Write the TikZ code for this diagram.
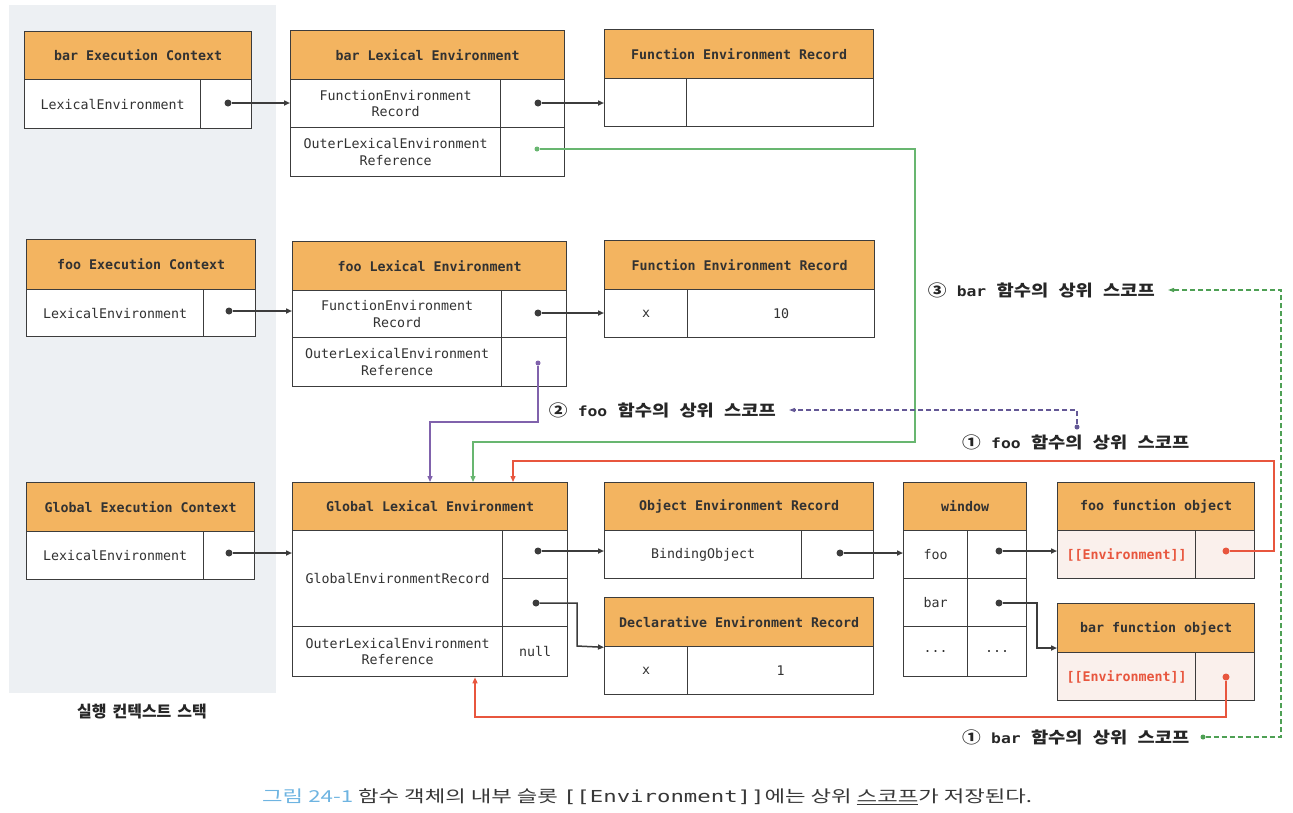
\documentclass[tikz,border=0pt]{standalone}
\usepackage{fontspec}
\usepackage{graphicx}
\setmainfont{Noto Sans CJK KR}
\setmonofont{DejaVu Sans Mono}
\usetikzlibrary{arrows.meta}
\definecolor{hdrc}{RGB}{243,180,96}
\definecolor{bd}{RGB}{60,60,60}
\definecolor{txt}{RGB}{50,50,50}
\definecolor{pinkc}{RGB}{250,240,236}
\definecolor{redc}{RGB}{232,86,62}
\definecolor{greenc}{RGB}{104,182,112}
\definecolor{purplec}{RGB}{128,98,172}
\definecolor{dgreen}{RGB}{78,160,84}
\definecolor{dpurple}{RGB}{100,88,150}
\definecolor{bgc}{RGB}{237,240,243}
\definecolor{capblue}{RGB}{110,180,225}
\definecolor{captxt}{RGB}{55,55,55}
\newcommand\cellfont{\fontsize{13.3pt}{16.5pt}\selectfont\ttfamily}
\newcommand\hdrfont{\fontsize{13.3pt}{16.5pt}\selectfont\ttfamily\bfseries}
\newcommand\mkcell[7]{\node[#1,minimum width=#5pt,minimum height=#6pt] (#2) at (#3,#4) {#7};}
\newcommand\lbltext[2]{\resizebox{227pt}{\height}{#1\hspace{0.55em}{\ttfamily\bfseries\fontsize{14pt}{16pt}\selectfont #2}\hspace{0.55em}함수의\hspace{0.55em}상위\hspace{0.55em}스코프}}
\begin{document}
\begin{tikzpicture}[x=1pt,y=-1pt,
  cellbase/.style={draw=bd, line width=1.3pt, inner sep=0pt, anchor=north west, align=center, text=txt},
  hdr/.style={cellbase, fill=hdrc, font=\hdrfont},
  cell/.style={cellbase, fill=white, font=\cellfont},
  pcell/.style={cellbase, fill=pinkc, font=\cellfont},
  pdot/.style={circle, fill=#1, inner sep=0pt, minimum size=7pt},
  sdot/.style={circle, fill=#1, inner sep=0pt, minimum size=5pt},
  conn/.style={line width=1.5pt, draw=bd, -{Triangle[length=6pt,width=5pt]}},
  gline/.style={line width=1.3pt, draw=greenc, -{Triangle[length=6pt,width=5pt]}},
  pline/.style={line width=1.3pt, draw=purplec, -{Triangle[length=6pt,width=5pt]}},
  rline/.style={line width=1.3pt, draw=redc, -{Triangle[length=6pt,width=5pt]}},
  dgline/.style={line width=1.2pt, draw=dgreen, dash pattern=on 5pt off 3pt, -{Triangle[length=6pt,width=4pt]}},
  dpline/.style={line width=1.2pt, draw=dpurple, dash pattern=on 5pt off 3pt, -{Triangle[length=6pt,width=4pt]}},
  lbl/.style={inner sep=0pt, text=black!85, font=\fontsize{16pt}{19pt}\selectfont\bfseries}
]
\useasboundingbox (0,0) rectangle (1293,812);
\fill[bgc] (9,5) rectangle (276,693);
% bar EC
\mkcell{hdr}{barECh}{24}{31}{227}{48}{bar Execution Context}
\mkcell{cell}{barECl}{24}{79}{176}{49}{LexicalEnvironment}
\mkcell{cell}{barECr}{200}{79}{51}{49}{}
% bar LE
\mkcell{hdr}{barLEh}{290}{30}{274}{49}{bar Lexical Environment}
\mkcell{cell}{barLE1l}{290}{79}{210}{48}{FunctionEnvironment\\Record}
\mkcell{cell}{barLE1r}{500}{79}{64}{48}{}
\mkcell{cell}{barLE2l}{290}{127}{210}{49}{OuterLexicalEnvironment\\Reference}
\mkcell{cell}{barLE2r}{500}{127}{64}{49}{}
% FER 1
\mkcell{hdr}{fer1h}{604}{29}{269}{49}{Function Environment Record}
\mkcell{cell}{fer1l}{604}{78}{82}{48}{}
\mkcell{cell}{fer1r}{686}{78}{187}{48}{}
% foo EC
\mkcell{hdr}{fooECh}{26}{239}{229}{50}{foo Execution Context}
\mkcell{cell}{fooECl}{26}{289}{177}{47}{LexicalEnvironment}
\mkcell{cell}{fooECr}{203}{289}{52}{47}{}
% foo LE
\mkcell{hdr}{fooLEh}{292}{241}{274}{49}{foo Lexical Environment}
\mkcell{cell}{fooLE1l}{292}{290}{209}{47}{FunctionEnvironment\\Record}
\mkcell{cell}{fooLE1r}{501}{290}{65}{47}{}
\mkcell{cell}{fooLE2l}{292}{337}{209}{49}{OuterLexicalEnvironment\\Reference}
\mkcell{cell}{fooLE2r}{501}{337}{65}{49}{}
% FER 2
\mkcell{hdr}{fer2h}{604}{240}{270}{49}{Function Environment Record}
\mkcell{cell}{fer2l}{604}{289}{83}{48}{x}
\mkcell{cell}{fer2r}{687}{289}{187}{48}{10}
% Global EC
\mkcell{hdr}{gECh}{26}{482}{228}{49}{Global Execution Context}
\mkcell{cell}{gECl}{26}{531}{177}{48}{LexicalEnvironment}
\mkcell{cell}{gECr}{203}{531}{51}{48}{}
% Global LE
\mkcell{hdr}{GLEh}{292}{482}{275}{48}{Global Lexical Environment}
\mkcell{cell}{GLEgl}{292}{530}{210}{96}{GlobalEnvironmentRecord}
\mkcell{cell}{GLEg1}{502}{530}{65}{48}{}
\mkcell{cell}{GLEg2}{502}{578}{65}{48}{}
\mkcell{cell}{GLEol}{292}{626}{210}{50}{OuterLexicalEnvironment\\Reference}
\mkcell{cell}{GLEor}{502}{626}{65}{50}{null}
% Object ER
\mkcell{hdr}{oerh}{604}{482}{269}{48}{Object Environment Record}
\mkcell{cell}{oerl}{604}{530}{197}{48}{BindingObject}
\mkcell{cell}{oerr}{801}{530}{72}{48}{}
% Declarative ER
\mkcell{hdr}{derh}{604}{597}{269}{49}{Declarative Environment Record}
\mkcell{cell}{derl}{604}{646}{83}{48}{x}
\mkcell{cell}{derr}{687}{646}{186}{48}{1}
% window
\mkcell{hdr}{winh}{903}{482}{123}{48}{window}
\mkcell{cell}{win1l}{903}{530}{64}{48}{foo}
\mkcell{cell}{win1r}{967}{530}{59}{48}{}
\mkcell{cell}{win2l}{903}{578}{64}{48}{bar}
\mkcell{cell}{win2r}{967}{578}{59}{48}{}
\mkcell{cell}{win3l}{903}{626}{64}{50}{...}
\mkcell{cell}{win3r}{967}{626}{59}{50}{...}
% foo function object
\mkcell{hdr}{ffoh}{1057}{482}{197}{48}{foo function object}
\mkcell{pcell}{ffol}{1057}{530}{138}{48}{\textcolor{redc}{\bfseries [[Environment]]}}
\mkcell{pcell}{ffor}{1195}{530}{59}{48}{}
% bar function object
\mkcell{hdr}{bfoh}{1057}{603}{197}{49}{bar function object}
\mkcell{pcell}{bfol}{1057}{652}{138}{48}{\textcolor{redc}{\bfseries [[Environment]]}}
\mkcell{pcell}{bfor}{1195}{652}{59}{48}{}
% dots
\node[pdot=bd] (d1) at (228,103) {};
\node[pdot=bd] (d2) at (538,103) {};
\node[sdot=greenc] (d3) at (537,149) {};
\node[pdot=bd] (d4) at (229,311) {};
\node[pdot=bd] (d5) at (538,313) {};
\node[sdot=purplec] (d6) at (538,363) {};
\node[pdot=bd] (d7) at (229,553) {};
\node[pdot=bd] (d8) at (538,551) {};
\node[pdot=bd] (d9) at (536,603) {};
\node[pdot=bd] (d10) at (840,553) {};
\node[pdot=bd] (d11) at (999,551) {};
\node[pdot=bd] (d12) at (999,603) {};
\node[pdot=redc] (d13) at (1226,551) {};
\node[pdot=redc] (d14) at (1226,677) {};
% black connectors
\draw[conn] (d1) -- (d1 -| barLE1l.west);
\draw[conn] (d2) -- (d2 -| fer1l.west);
\draw[conn] (d4) -- (d4 -| fooLE1l.west);
\draw[conn] (d5) -- (d5 -| fer2l.west);
\draw[conn] (d7) -- (d7 -| GLEgl.west);
\draw[conn] (d8) -- (d8 -| oerl.west);
\coordinate (b1) at (577,646);
\draw[conn] (d9) -| (b1) -- (derh.south west);
\draw[conn] (d10) -- (d10 -| win1l.west);
\draw[conn] (d11) -- (d11 -| ffol.west);
\coordinate (b2) at (1037,648);
\draw[conn] (d12) -| (b2) -- (b2 -| bfoh.west);
% coloured connectors
\coordinate (g1) at (915,442);
\coordinate (gx) at (473,442);
\draw[gline] (d3) -| (g1) -- (gx) -- (gx |- GLEh.north);
\coordinate (p1) at (430,422);
\draw[pline] (d6) |- (p1) -- (p1 |- GLEh.north);
\coordinate (r1) at (1274,461);
\coordinate (rx) at (513,461);
\draw[rline] (d13) -| (r1) -- (rx) -- (rx |- GLEh.north);
\coordinate (r2) at (475,717);
\draw[rline] (d14) |- (r2) -- (r2 |- GLEol.south);
% labels
\node[lbl, anchor=east] (l3) at (1155,290) {\lbltext{③}{bar}};
\node[lbl, anchor=east] (l2) at (776,410) {\lbltext{②}{foo}};
\node[lbl, anchor=west] (l1f) at (962,442) {\lbltext{①}{foo}};
\node[lbl, anchor=west] (l1b) at (962,737) {\lbltext{①}{bar}};
\node[sdot=dpurple] (d15) at (1077,427) {};
\node[sdot=dgreen] (d16) at (1203,737) {};
\coordinate (pc) at (1077,410);
\draw[dpline] (d15) -- (pc) -- ([xshift=13pt]l2.east);
\coordinate (gc1) at (1281,737);
\coordinate (gc2) at (1281,290);
\draw[dgline] (d16) -- (gc1) -- (gc2) -- ([xshift=13pt]l3.east);
% stack label and caption
\node[lbl] (stk) at (142,712) {실행\hspace{6pt}컨텍스트\hspace{6pt}스택};
\node[anchor=west, inner sep=0pt, font=\fontsize{16.5pt}{20pt}\selectfont] (cap) at (262,797) {\resizebox{770pt}{\height}{\textcolor{capblue}{그림 24-1} \textcolor{captxt}{함수 객체의 내부 슬롯 {\ttfamily [[Environment]]}에는 상위 \underline{스코프}가 저장된다.}}};
\end{tikzpicture}
\end{document}
